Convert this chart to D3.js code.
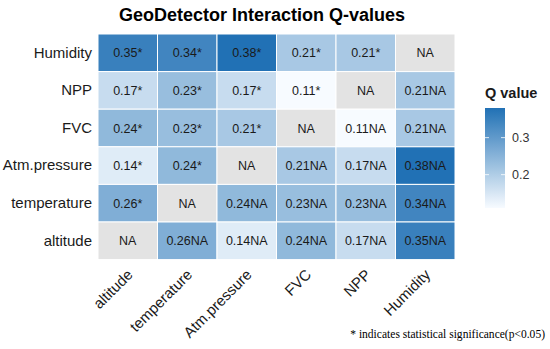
<!DOCTYPE html>
<html><head><meta charset="utf-8">
<script src="https://cdn.jsdelivr.net/npm/d3@7"></script>
<style>body{margin:0;background:#fff}svg{display:block}</style>
</head><body>
<svg id="chart" width="550" height="349"></svg>
<script>
const xVars = ["altitude", "temperature", "Atm.pressure", "FVC", "NPP", "Humidity"];
const yVars = ["Humidity", "NPP", "FVC", "Atm.pressure", "temperature", "altitude"];
// rows in yVars order, columns in xVars order; null = NA
const qValues = [
  [0.35, 0.34, 0.38, 0.21, 0.21, null],
  [0.17, 0.23, 0.17, 0.11, null, 0.21],
  [0.24, 0.23, 0.21, null, 0.11, 0.21],
  [0.14, 0.24, null, 0.21, 0.17, 0.38],
  [0.26, null, 0.24, 0.23, 0.23, 0.34],
  [null, 0.26, 0.14, 0.24, 0.17, 0.35]
];
const sigMarks = [
  ["*", "*", "*", "*", "*", ""],
  ["*", "*", "*", "*", "", "NA"],
  ["*", "*", "*", "", "NA", "NA"],
  ["*", "*", "", "NA", "NA", "NA"],
  ["*", "", "NA", "NA", "NA", "NA"],
  ["", "NA", "NA", "NA", "NA", "NA"]
];
const legendTicks = [0.2, 0.3];
const qDomain = [0.11, 0.38];

const svg = d3.select("#chart");
const font = "'Liberation Sans', Arial, sans-serif";
const x = d3.scaleBand().domain(xVars).range([98, 455]).padding(0);
const y = d3.scaleBand().domain(yVars).range([34, 259.6]).padding(0);
const color = d3.scaleLinear().domain(qDomain).range(["#f7fbff", "#2171b5"]).clamp(true);

const cells = [];
yVars.forEach((rv, i) => xVars.forEach((cv, j) => cells.push({row: rv, col: cv, v: qValues[i][j], s: sigMarks[i][j]})));

svg.append("text").attr("x", 262).attr("y", 21).attr("text-anchor", "middle")
  .attr("font-family", font).attr("font-weight", "bold").attr("font-size", 18).text("GeoDetector Interaction Q-values");

svg.append("g").selectAll("rect").data(cells).join("rect")
  .attr("x", d => x(d.col)).attr("y", d => y(d.row))
  .attr("width", x.bandwidth()).attr("height", y.bandwidth())
  .attr("fill", d => d.v == null ? "#e3e3e3" : color(d.v))
  .attr("stroke", "#fff").attr("stroke-width", 1);

svg.append("g").selectAll("text").data(cells).join("text")
  .attr("x", d => x(d.col) + x.bandwidth() / 2).attr("y", d => y(d.row) + y.bandwidth() / 2)
  .attr("dy", "0.36em").attr("text-anchor", "middle")
  .attr("font-family", font).attr("font-size", 12.5).attr("fill", "#1a1a1a")
  .text(d => d.v == null ? "NA" : d3.format(".2f")(d.v) + d.s);

// y axis labels
const yAxis = d3.axisLeft(y).tickSize(0).tickPadding(6);
const gy = svg.append("g").attr("transform", "translate(98,0)").call(yAxis);
gy.select(".domain").remove();
gy.selectAll("text").attr("font-family", font).attr("font-size", 15).attr("fill", "#1a1a1a");

// x axis labels rotated
const xAxis = d3.axisBottom(x).tickSize(0).tickPadding(0);
const gx = svg.append("g").attr("transform", "translate(0,259.6)").call(xAxis);
gx.select(".domain").remove();
gx.selectAll("text").attr("font-family", font).attr("font-size", 15).attr("fill", "#1a1a1a")
  .attr("text-anchor", "end").attr("dy", null).attr("y", null)
  .attr("transform", "translate(6,16) rotate(-45)");

// legend
const lg = svg.append("g");
const defs = svg.append("defs");
const grad = defs.append("linearGradient").attr("id", "qgrad").attr("x1", 0).attr("y1", 1).attr("x2", 0).attr("y2", 0);
d3.range(0, 1.0001, 0.1).forEach(t => grad.append("stop").attr("offset", t)
  .attr("stop-color", color(qDomain[0] + t * (qDomain[1] - qDomain[0]))));
const ly = d3.scaleLinear().domain(qDomain).range([208, 108]);
lg.append("text").attr("x", 485).attr("y", 98).attr("font-family", font).attr("font-weight", "bold")
  .attr("font-size", 14.5).attr("fill", "#1a1a1a").text("Q value");
lg.append("rect").attr("x", 485).attr("y", 108).attr("width", 20).attr("height", 100).attr("fill", "url(#qgrad)");
legendTicks.forEach(t => {
  lg.append("line").attr("x1", 485).attr("x2", 489).attr("y1", ly(t)).attr("y2", ly(t)).attr("stroke", "#fff").attr("stroke-width", 0.8);
  lg.append("line").attr("x1", 501).attr("x2", 505).attr("y1", ly(t)).attr("y2", ly(t)).attr("stroke", "#fff").attr("stroke-width", 0.8);
  lg.append("text").attr("x", 512).attr("y", ly(t)).attr("dy", "0.36em").attr("font-family", font)
    .attr("font-size", 12.5).attr("fill", "#333").text(d3.format(".1f")(t));
});

const foot = svg.append("text").attr("transform", "translate(545,338)")
  .attr("text-anchor", "end")
  .attr("font-family", "'Liberation Serif', 'Times New Roman', serif").attr("font-size", 12.5).attr("fill", "#000")
  .text("* indicates statistical significance(p<0.05)");
const fw = foot.node().getComputedTextLength();
foot.attr("transform", `translate(545,338) scale(${Math.min(1, 195 / fw)},1)`);
</script>
</body></html>
